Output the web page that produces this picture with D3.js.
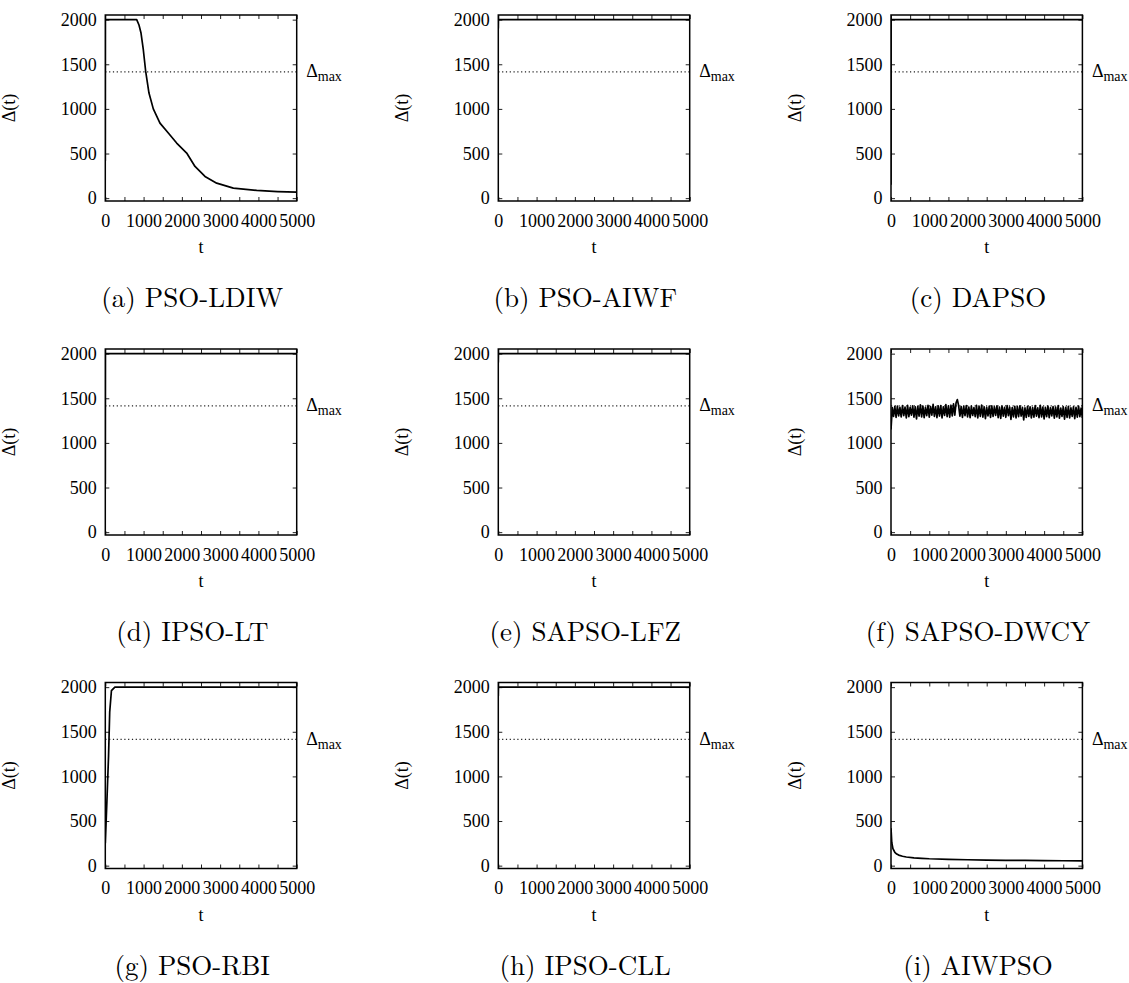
<!DOCTYPE html>
<html>
<head>
<meta charset="utf-8">
<script src="https://cdn.jsdelivr.net/npm/d3@7"></script>
<style>
  body { margin: 0; background: #fff; }
</style>
</head>
<body>
<div id="chart"></div>
<script>
// panel captions, in reading order
const captions = ["(a) PSO-LDIW", "(b) PSO-AIWF", "(c) DAPSO",
                  "(d) IPSO-LT", "(e) SAPSO-LFZ", "(f) SAPSO-DWCY",
                  "(g) PSO-RBI", "(h) IPSO-CLL", "(i) AIWPSO"];

const deltaMax = 1414;
const yTicks = [0, 500, 1000, 1500, 2000];
const xTicks = [0, 500, 1000, 1500, 2000, 2500, 3000, 3500, 4000, 4500, 5000];
const xLabels = [0, 1000, 2000, 3000, 4000, 5000];

// (a) PSO-LDIW
const tLDIW = [0, 2, 820, 880, 933, 993, 1055, 1141, 1254, 1428, 1646, 1864, 2126, 2343, 2604, 2910, 3345, 3955, 4500, 5000];
const dLDIW = [420, 2000, 2000, 1940, 1850, 1663, 1420, 1177, 1000, 841, 729, 617, 505, 355, 243, 168, 112, 86, 74, 67];
// (b) PSO-AIWF
const tAIWF = [0, 3, 5000];
const dAIWF = [1900, 2000, 2000];
// (c) DAPSO
const tDAPSO = [0, 3, 5000];
const dDAPSO = [150, 2000, 2000];
// (d) IPSO-LT
const tLT = [0, 3, 5000];
const dLT = [540, 2000, 2000];
// (e) SAPSO-LFZ
const tLFZ = [0, 3, 5000];
const dLFZ = [1900, 2000, 2000];
// (f) SAPSO-DWCY : one sample every ~33 iterations
const dDWCY = [
1150,1395,1298,1408,1285,1412,1302,1399,1290,1418,1306,1402,1281,1421,1295,1397,1310,1415,1288,1404,
1268,1409,1300,1426,1292,1411,1284,1398,1305,1420,1289,1407,1312,1431,1296,1403,1283,1414,1301,1419,
1279,1405,1308,1428,1294,1416,1287,1422,1303,1437,1311,1450,1485,1418,1299,1406,1286,1410,1304,1417,
1290,1401,1282,1413,1307,1396,1293,1420,1280,1408,1298,1424,1289,1405,1271,1399,1302,1411,1285,1416,
1296,1403,1309,1415,1283,1400,1274,1412,1299,1397,1287,1419,1305,1402,1264,1395,1291,1409,1280,1406,
1293,1414,1301,1398,1257,1392,1286,1410,1297,1404,1279,1396,1288,1417,1300,1393,1284,1421,1292,1401,
1270,1399,1295,1412,1283,1394,1303,1407,1278,1400,1290,1418,1276,1391,1298,1405,1267,1397,1285,1409,
1281,1392,1296,1403,1272,1398,1289,1411,1294,1390,1279
];
// (g) PSO-RBI
const tRBI = [0, 40, 85, 115, 160, 250, 5000];
const dRBI = [250, 700, 1230, 1720, 1960, 2000, 2000];
// (h) IPSO-CLL
const tCLL = [0, 3, 5000];
const dCLL = [1900, 2000, 2000];
// (i) AIWPSO
const tAIW = [0, 20, 50, 100, 150, 200, 300, 400, 600, 800, 1000, 1500, 2000, 2500, 3000, 3500, 4000, 4500, 5000];
const dAIW = [420, 260, 190, 150, 130, 118, 105, 97, 88, 82, 77, 70, 66, 62, 60, 58, 56, 55, 53];

const tDWCY = dDWCY.map((d, i) => i * 5000 / (dDWCY.length - 1));

const series = [
  [tLDIW, dLDIW], [tAIWF, dAIWF], [tDAPSO, dDAPSO],
  [tLT, dLT], [tLFZ, dLFZ], [tDWCY, dDWCY],
  [tRBI, dRBI], [tCLL, dCLL], [tAIW, dAIW]
];

const W = 1129, H = 983;
const pw = 191.4, ph = 186;
const colX = [105.3, 498.3, 891];
const rowY = [15, 349, 682.5];
const PLOT_FONT = "'Liberation Serif', 'Latin Modern Roman', serif";
const CAP_FONT = "'Latin Modern Roman'";

const svg = d3.select("#chart").append("svg").attr("width", W).attr("height", H);

const x = d3.scaleLinear().domain([0, 5000]).range([0, pw]);
const y = d3.scaleLinear().domain([-32, 2052]).range([ph, 0]);

const line = d3.line().x(d => x(d[0])).y(d => y(d[1]));

svg.append("defs").append("clipPath").attr("id", "frame")
  .append("rect").attr("width", pw).attr("height", ph);

series.forEach((s, k) => {
  const g = svg.append("g")
    .attr("transform", "translate(" + colX[k % 3] + "," + rowY[Math.floor(k / 3)] + ")");

  //axes, ticks pointing inward on all four sides
  const fmtX = d => xLabels.includes(d) ? String(d) : "";
  g.append("g").attr("transform", "translate(0," + ph + ")")
    .call(d3.axisBottom(x).tickValues(xTicks).tickSize(-4).tickPadding(13.2).tickFormat(fmtX));
  g.append("g")
    .call(d3.axisTop(x).tickValues(xTicks).tickSize(-4).tickFormat(""));
  g.append("g")
    .call(d3.axisLeft(y).tickValues(yTicks).tickSize(-4).tickPadding(8.5).tickFormat(d => String(d)));
  g.append("g").attr("transform", "translate(" + pw + ",0)")
    .call(d3.axisRight(y).tickValues(yTicks).tickSize(-4).tickFormat(""));
  g.selectAll(".domain").remove();
  g.selectAll("g").attr("font-family", null);
  g.selectAll(".tick text").style("font-family", PLOT_FONT).style("font-size", "18px");
  g.selectAll(".tick line").attr("stroke", "#222");

  //delta max reference
  g.append("line")
    .attr("x1", 0).attr("x2", pw)
    .attr("y1", y(deltaMax)).attr("y2", y(deltaMax))
    .attr("stroke", "#222").attr("stroke-width", 1.2)
    .attr("stroke-dasharray", "1.2,2.6");

  const lbl = g.append("text").attr("x", pw + 9.5).attr("y", y(deltaMax) + 5.5)
    .style("font-family", PLOT_FONT);
  lbl.append("tspan").style("font-size", "18px").text("Δ");
  lbl.append("tspan").style("font-size", "14px").attr("dy", 4).text("max");

  //data
  const pts = s[0].map((t, i) => [t, s[1][i]]);
  g.append("path")
    .datum(pts)
    .attr("d", line)
    .attr("clip-path", "url(#frame)")
    .attr("fill", "none")
    .attr("stroke", "#000")
    .attr("stroke-width", 1.7)
    .attr("stroke-linejoin", "round");

  //frame
  g.append("rect")
    .attr("width", pw).attr("height", ph)
    .attr("fill", "none").attr("stroke", "#000").attr("stroke-width", 1.5);

  //axis titles
  g.append("text")
    .attr("transform", "translate(" + (15 - colX[0]) + "," + (ph / 2) + ") rotate(-90)")
    .attr("text-anchor", "middle")
    .style("font-family", PLOT_FONT)
    .style("font-size", "18px")
    .text("Δ(t)");
  g.append("text")
    .attr("x", pw / 2).attr("y", 238)
    .attr("text-anchor", "middle")
    .style("font-family", PLOT_FONT)
    .style("font-size", "18px")
    .text("t");

  //caption
  g.append("text")
    .attr("x", 87).attr("y", 292)
    .attr("text-anchor", "middle")
    .style("font-family", CAP_FONT)
    .style("font-size", "27px")
    .text(captions[k]);
});
</script>
</body>
</html>
